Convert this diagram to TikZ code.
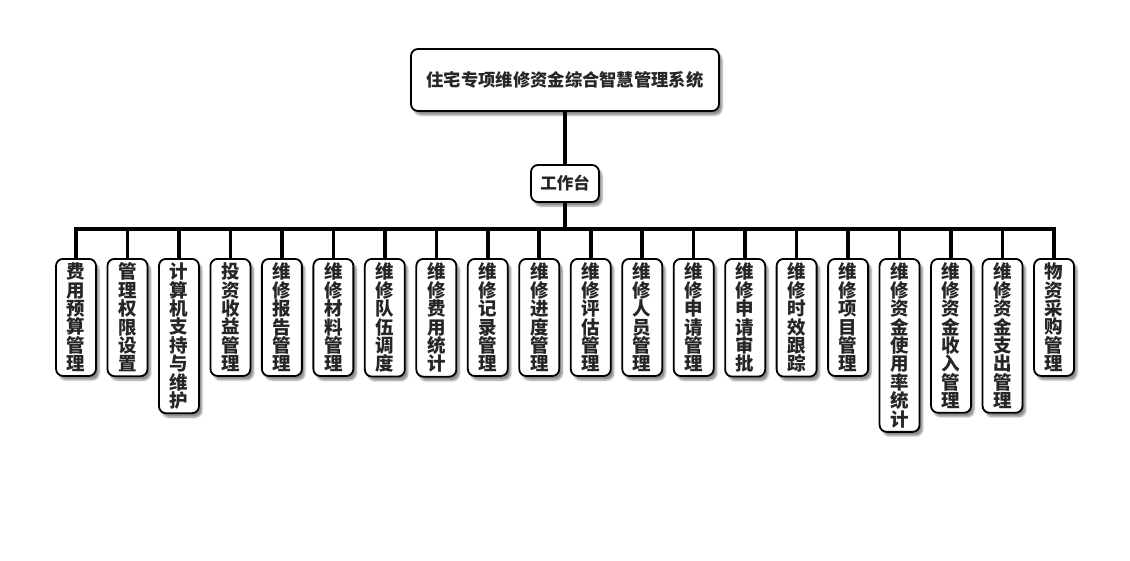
\documentclass[tikz,border=0pt]{standalone}
\usepackage{fontspec}
\newfontfamily\cjk{Noto Sans CJK SC}
\usetikzlibrary{shadows.blur}
\pgfdeclarelayer{bg}
\pgfsetlayers{bg,main}
\tikzset{
  box/.style={draw=black, line width=1.8pt, fill=white, rounded corners=7pt,
    blur shadow={shadow xshift=3pt, shadow yshift=-4pt, shadow blur steps=6, shadow opacity=45},
    font=\cjk\bfseries, text=black!85},
  topbox/.style={box, minimum width=308pt, minimum height=62pt, font=\cjk\bfseries\fontsize{17.3}{19}\selectfont},
  midbox/.style={box, minimum width=68pt, minimum height=37pt, font=\cjk\bfseries\fontsize{16.5}{18}\selectfont},
  leaf/.style={box, anchor=north, minimum width=40pt, inner xsep=0pt, inner ysep=4pt, align=center,
    font=\cjk\bfseries\fontsize{18.5}{18.4}\selectfont},
  conn/.style={draw=black, line width=3.6pt, line join=miter}
}
\begin{document}
\begin{tikzpicture}[x=1pt,y=-1pt]
\useasboundingbox (0,0) rectangle (1130,560);
\node[topbox] (top) at (565,80) {住宅专项维修资金综合智慧管理系统};
\node[midbox] (ws) at (565,183.5) {工作台};
\coordinate (bus) at (565,229);
\foreach \t [count=\i] in {
 {费\\用\\预\\算\\管\\理},
 {管\\理\\权\\限\\设\\置},
 {计\\算\\机\\支\\持\\与\\维\\护},
 {投\\资\\收\\益\\管\\理},
 {维\\修\\报\\告\\管\\理},
 {维\\修\\材\\料\\管\\理},
 {维\\修\\队\\伍\\调\\度},
 {维\\修\\费\\用\\统\\计},
 {维\\修\\记\\录\\管\\理},
 {维\\修\\进\\度\\管\\理},
 {维\\修\\评\\估\\管\\理},
 {维\\修\\人\\员\\管\\理},
 {维\\修\\申\\请\\管\\理},
 {维\\修\\申\\请\\审\\批},
 {维\\修\\时\\效\\跟\\踪},
 {维\\修\\项\\目\\管\\理},
 {维\\修\\资\\金\\使\\用\\率\\统\\计},
 {维\\修\\资\\金\\收\\入\\管\\理},
 {维\\修\\资\\金\\支\\出\\管\\理},
 {物\\资\\采\\购\\管\\理}}
{
  \pgfmathsetmacro{\xx}{76+51.474*(\i-1)}
  \node[leaf] (l\i) at (\xx,258) {\t};
}
\begin{pgfonlayer}{bg}
\draw[conn] (top.south) -- (ws.north);
\foreach \i in {1,...,20}{
  \draw[conn] (ws.south) -- (bus) -| (l\i.north);
}
\end{pgfonlayer}
\end{tikzpicture}
\end{document}
